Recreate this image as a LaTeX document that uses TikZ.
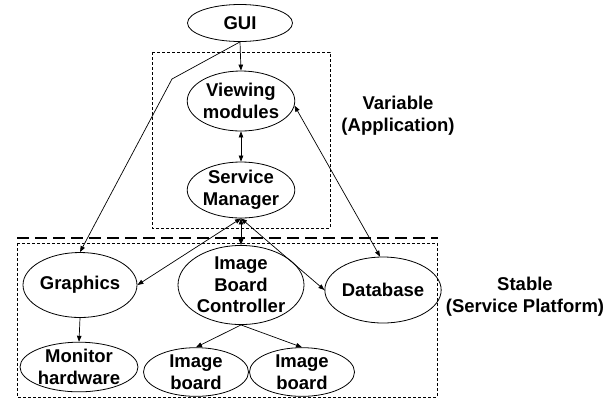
\documentclass[tikz,border=0pt]{standalone}
\usepackage{fontspec}
\setmainfont{Liberation Sans}
\usetikzlibrary{shapes.geometric,arrows.meta}
\tikzset{
  module/.style={ellipse, draw, line width=0.8pt, inner sep=0pt, align=center,
    font=\fontsize{18.5}{21.5}\selectfont\bfseries},
  arr/.style={line width=0.7pt, -{Triangle[length=6pt,width=4.5pt]}},
  darr/.style={line width=0.7pt, {Triangle[length=6pt,width=4.5pt]}-{Triangle[length=6pt,width=4.5pt]}},
  zone/.style={draw, line width=0.6pt, dash pattern=on 3pt off 2pt},
  divider/.style={line width=2.2pt, dash pattern=on 12pt off 6pt},
  caption/.style={align=center, font=\fontsize{18.5}{22}\selectfont\bfseries}
}
\begin{document}
\begin{tikzpicture}[x=1pt,y=-1pt]
\useasboundingbox (0,0) rectangle (615,400);

% layer boundaries
\draw[zone] (152,52) rectangle (330,228);
\draw[zone] (17,243) rectangle (437,397);
\draw[divider] (17,238) -- (438,238);

% application layer
\node[module, minimum width=105pt, minimum height=37pt] (gui) at (240,23) {GUI};
\node[module, minimum width=105pt, minimum height=60pt] (view) at (241,101) {Viewing\\modules};
\node[module, minimum width=105pt, minimum height=56pt] (sm) at (241,190) {Service\\Manager};

% service platform
\node[module, minimum width=114pt, minimum height=65pt] (gfx) at (80,285) {Graphics};
\node[module, minimum width=126pt, minimum height=75pt] (ibc) at (241,285) {Image\\Board\\Controller};
\node[module, minimum width=106pt, minimum height=66pt] (db) at (383,290) {Database};
\node[module, minimum width=118pt, minimum height=41pt] (mon) at (79,367) {Monitor\\hardware};
\node[module, minimum width=105pt, minimum height=41pt] (ib1) at (196,372) {Image\\board};
\node[module, minimum width=105pt, minimum height=41pt] (ib2) at (302,372) {Image\\board};

% captions
\node[caption] (varcap) at (398,116) {Variable\\(Application)};
\node[caption] (stabcap) at (525,297) {Stable\\(Service Platform)};

% connectors
\coordinate (bend) at (172,79);
\draw[arr] (gui.south) -- (view.north);
\draw[arr] (gui.south) -- (bend) -- (gfx.north);
\draw[darr] (view.south) -- (sm.north);
\draw[darr] (view.-5) -- (db.95);
\draw[darr] (sm.south) -- (ibc.north);
\draw[darr] (sm.south) -- (gfx.east);
\draw[darr] (sm.south) -- (db.west);
\draw[arr] (gfx.south) -- (mon.north);
\draw[arr] (ibc.south) -- (ib1.north);
\draw[arr] (ibc.south) -- (ib2.north);
\end{tikzpicture}
\end{document}
